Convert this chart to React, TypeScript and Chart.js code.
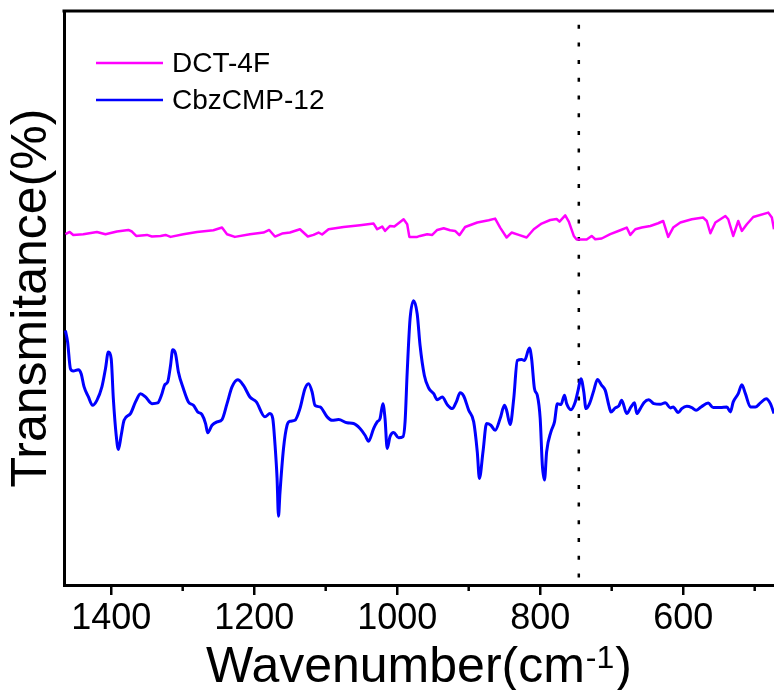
import React, { useEffect, useRef } from 'react';
import { Chart, registerables } from 'chart.js';

Chart.register(...registerables);

const FONT = "'Liberation Sans', Arial, sans-serif";

const xMin = 473;
const xMax = 1466;
const yMin = 0;
const yMax = 96;
const majorTickValues = [1400, 1200, 1000, 800, 600];
const minorTickValues = [1300, 1100, 900, 700, 500];
const markerWavenumber = 746;
const markerRange = [0, 96];

const seriesLabels = ['DCT-4F', 'CbzCMP-12'];
const seriesColors = ['#ff00ff', '#0000ff'];
const yTitle = 'Transmitance(%)';
const xTitleMain = 'Wavenumber(cm';
const xTitleSup = '-1';
const xTitleEnd = ')';

const dctWavenumber = [
  1464, 1458, 1453, 1439, 1420, 1408, 1392, 1376, 1371, 1365, 1350, 1343, 1331, 1324, 1317,
  1299, 1280, 1257, 1245, 1238, 1227, 1206, 1187, 1179, 1171, 1161, 1150, 1136, 1125, 1117,
  1110, 1105, 1096, 1075, 1052, 1033, 1028, 1021, 1017, 1010, 1004, 991, 986, 983, 972,
  968, 958, 951, 944, 935, 926, 919, 913, 905, 888, 872, 863, 856, 847, 840,
  830, 819, 809, 798, 786, 777, 773, 765, 760, 753, 749, 735, 728, 723, 714,
  702, 688, 679, 674, 667, 658, 646, 635, 628, 621, 614, 604, 588, 572, 567,
  562, 555, 541, 537, 530, 523, 518, 511, 502, 481, 476, 473,
];
const dctTransmittance = [
  58.67, 59.05, 58.55, 58.67, 59.05, 58.67, 59.12, 59.38, 59.12, 58.38, 58.55, 58.28, 58.38, 58.55, 58.22,
  58.67, 59.05, 59.33, 59.78, 58.67, 58.22, 58.67, 58.95, 59.38, 58.28, 58.78, 58.95, 59.5, 58.28, 58.55,
  58.95, 58.62, 59.5, 59.88, 60.17, 60.45, 59.5, 59.95, 59.22, 60.05, 59.95, 61.17, 60.33, 58.22, 58.22,
  58.38, 58.67, 58.55, 59.38, 59.67, 59.33, 59.22, 58.5, 59.88, 60.62, 61.0, 61.28, 59.78, 58.12, 58.95,
  58.55, 58.12, 59.5, 60.45, 61.05, 61.22, 60.78, 61.83, 60.78, 58.38, 57.78, 57.78, 58.38, 57.83, 57.95,
  58.67, 59.33, 59.78, 58.55, 59.5, 59.78, 60.05, 60.5, 60.88, 58.22, 59.78, 60.62, 61.17, 61.45, 60.88,
  58.83, 60.62, 61.72, 61.17, 58.38, 60.88, 59.22, 60.33, 61.55, 62.28, 61.45, 59.5,
];

const cbzWavenumber = [
  1464, 1461, 1457, 1453, 1446, 1442, 1438, 1432, 1426, 1420, 1413, 1408, 1404, 1400, 1397,
  1393, 1390, 1386, 1382, 1373, 1366, 1359, 1352, 1343, 1335, 1329, 1325, 1321, 1317, 1314,
  1310, 1306, 1299, 1292, 1285, 1279, 1273, 1268, 1265, 1259, 1252, 1245, 1238, 1231, 1223,
  1215, 1206, 1197, 1185, 1178, 1174, 1171, 1168, 1166, 1164, 1159, 1154, 1150, 1143, 1136,
  1129, 1124, 1119, 1115, 1108, 1098, 1091, 1082, 1070, 1061, 1052, 1045, 1040, 1033, 1028,
  1024, 1020, 1017, 1014, 1010, 1005, 998, 992, 989, 986, 982, 977, 972, 968, 962,
  956, 949, 944, 937, 930, 923, 917, 912, 907, 900, 893, 888, 885, 880, 875,
  869, 863, 856, 850, 847, 842, 837, 832, 826, 822, 815, 812, 808, 804, 800,
  797, 794, 791, 785, 780, 776, 771, 766, 763, 757, 751, 747, 743, 739, 736,
  731, 725, 720, 714, 709, 704, 701, 695, 690, 686, 679, 673, 668, 665, 660,
  655, 648, 641, 632, 625, 618, 614, 607, 602, 595, 588, 582, 575, 565, 558,
  548, 539, 534, 530, 523, 518, 513, 506, 499, 492, 484, 478, 473,
];
const cbzTransmittance = [
  42.55, 40.67, 36.17, 35.78, 36.0, 35.33, 33.17, 31.5, 30.05, 30.88, 33.12, 36.17, 38.95, 37.83, 31.17,
  25.05, 22.67, 25.05, 27.55, 28.67, 30.62, 32.0, 31.45, 30.33, 30.45, 32.0, 33.5, 33.95, 36.72, 39.33,
  38.67, 35.62, 32.83, 30.62, 30.05, 28.95, 28.5, 27.0, 25.45, 26.72, 27.28, 27.67, 30.33, 33.12, 34.33,
  33.38, 31.45, 30.62, 28.12, 28.67, 27.83, 23.67, 17.83, 11.5, 15.33, 22.83, 26.72, 27.38, 27.55, 29.5,
  32.83, 33.67, 32.28, 30.05, 29.78, 28.12, 27.55, 27.67, 27.12, 27.0, 26.17, 25.05, 24.05, 26.17, 27.28,
  27.83, 30.33, 27.83, 22.83, 24.83, 25.5, 24.62, 24.78, 27.28, 35.62, 44.5, 47.55, 45.33, 40.05, 35.05,
  32.95, 32.0, 31.0, 31.45, 30.17, 29.5, 30.72, 32.17, 31.62, 29.22, 27.28, 22.28, 17.83, 22.28, 27.0,
  26.72, 25.88, 27.83, 30.05, 29.22, 26.83, 31.17, 37.55, 37.72, 37.55, 39.62, 37.83, 32.83, 31.72, 27.83,
  20.05, 17.55, 22.28, 25.62, 27.28, 30.33, 30.17, 31.72, 30.33, 29.33, 30.62, 32.55, 34.5, 32.28, 29.5,
  30.33, 32.55, 34.38, 33.38, 32.55, 30.05, 28.95, 29.62, 29.95, 30.88, 28.67, 29.78, 30.5, 28.67, 29.5,
  30.5, 31.0, 30.33, 30.22, 30.5, 29.62, 29.78, 28.83, 29.5, 29.88, 29.67, 29.22, 29.78, 30.45, 29.67,
  29.67, 29.78, 28.95, 30.62, 32.0, 33.5, 32.0, 29.78, 29.78, 30.45, 31.17, 30.33, 28.67,
];

const toPoints = (xs: number[], ys: number[]) => xs.map((x, i) => ({ x, y: ys[i] }));

const decorPlugin = {
  id: 'decor',
  afterDraw(chart: any) {
    const { ctx, chartArea, scales } = chart;
    const xs = scales.x;
    ctx.save();
    ctx.strokeStyle = '#000';
    ctx.fillStyle = '#000';
    // top frame
    ctx.lineWidth = 3;
    ctx.beginPath();
    ctx.moveTo(chartArea.left - 1.5, chartArea.top);
    ctx.lineTo(chartArea.right + 2, chartArea.top);
    ctx.stroke();
    // minor ticks
    ctx.lineWidth = 2.5;
    minorTickValues.forEach((v) => {
      const px = xs.getPixelForValue(v);
      ctx.beginPath();
      ctx.moveTo(px, chartArea.bottom);
      ctx.lineTo(px, chartArea.bottom + 6);
      ctx.stroke();
    });
    // x title with superscript
    const mainFont = `50px ${FONT}`;
    const supFont = `32px ${FONT}`;
    ctx.font = mainFont;
    const w1 = ctx.measureText(xTitleMain).width;
    const w3 = ctx.measureText(xTitleEnd).width;
    ctx.font = supFont;
    const w2 = ctx.measureText(xTitleSup).width;
    const total = w1 + w2 + w3 + 2;
    const cx = (chartArea.left + chartArea.right) / 2;
    let x0 = cx - total / 2;
    const base = 682;
    ctx.textAlign = 'left';
    ctx.textBaseline = 'alphabetic';
    ctx.font = mainFont;
    ctx.fillText(xTitleMain, x0, base);
    x0 += w1 + 1;
    ctx.font = supFont;
    ctx.fillText(xTitleSup, x0, base - 14);
    x0 += w2 + 1;
    ctx.font = mainFont;
    ctx.fillText(xTitleEnd, x0, base);
    // legend
    const legendRows = [63, 100];
    ctx.font = `28px ${FONT}`;
    ctx.textBaseline = 'middle';
    seriesLabels.forEach((label, i) => {
      const y = legendRows[i];
      ctx.strokeStyle = seriesColors[i];
      ctx.lineWidth = 2.5;
      ctx.beginPath();
      ctx.moveTo(96, y);
      ctx.lineTo(163, y);
      ctx.stroke();
      ctx.fillStyle = '#000';
      ctx.fillText(label, 172, y + 1);
    });
    ctx.restore();
  },
};

export default function App() {
  const canvasRef = useRef<HTMLCanvasElement | null>(null);

  useEffect(() => {
    const canvas = canvasRef.current;
    if (!canvas) return;
    const chart = new Chart(canvas, {
      type: 'line',
      data: {
        datasets: [
          {
            label: seriesLabels[0],
            data: toPoints(dctWavenumber, dctTransmittance),
            borderColor: seriesColors[0],
            borderWidth: 2.5,
            pointRadius: 0,
            tension: 0,
            borderJoinStyle: 'round',
            fill: false,
          },
          {
            label: seriesLabels[1],
            data: toPoints(cbzWavenumber, cbzTransmittance),
            borderColor: seriesColors[1],
            borderWidth: 3,
            pointRadius: 0,
            cubicInterpolationMode: 'monotone',
            borderJoinStyle: 'round',
            fill: false,
          },
          {
            label: 'marker',
            data: [
              { x: markerWavenumber, y: markerRange[1] },
              { x: markerWavenumber, y: markerRange[0] },
            ],
            borderColor: '#000',
            borderWidth: 2.5,
            borderDash: [4, 13.7],
            borderDashOffset: 4,
            pointRadius: 0,
            fill: false,
          },
        ],
      },
      options: {
        animation: false,
        responsive: false,
        maintainAspectRatio: false,
        events: [],
        layout: { padding: { top: 11, right: 0, bottom: 47.8, left: 0 } },
        plugins: {
          legend: { display: false },
          tooltip: { enabled: false },
        },
        scales: {
          x: {
            type: 'linear',
            reverse: true,
            min: xMin,
            max: xMax,
            position: 'bottom',
            afterBuildTicks: (scale: any) => {
              scale.ticks = majorTickValues.map((v) => ({ value: v }));
            },
            grid: {
              display: true,
              drawOnChartArea: false,
              drawTicks: true,
              tickLength: 10,
              tickWidth: 2.5,
              tickColor: '#000',
              lineWidth: 2.5,
              color: '#000',
            },
            border: { display: true, color: '#000', width: 3 },
            ticks: {
              color: '#000',
              font: { size: 36, family: FONT },
              padding: 2,
              maxRotation: 0,
              autoSkip: false,
              callback: (v: any) => String(v),
            },
          },
          y: {
            type: 'linear',
            min: yMin,
            max: yMax,
            grid: { display: true, drawOnChartArea: false, drawTicks: false, color: '#000', lineWidth: 3 },
            border: { display: true, color: '#000', width: 3 },
            ticks: { display: false },
            title: {
              display: true,
              text: yTitle,
              color: '#000',
              font: { size: 50, family: FONT },
              padding: { top: 2, bottom: 2 },
            },
          },
        },
      },
      plugins: [decorPlugin],
    });
    return () => chart.destroy();
  }, []);

  return (
    <div style={{ position: 'fixed', left: 0, top: 0, width: 774, height: 690, background: '#fff' }}>
      <canvas ref={canvasRef} width={774} height={690} style={{ width: 774, height: 690, display: 'block' }} />
    </div>
  );
}
